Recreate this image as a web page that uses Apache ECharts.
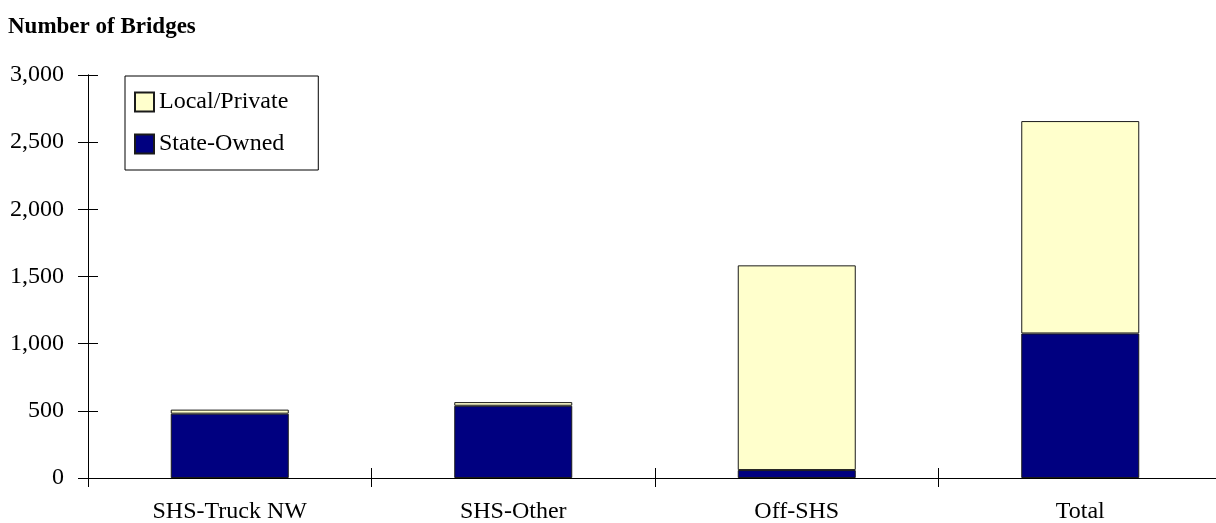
<!DOCTYPE html>
<html>
<head>
<meta charset="utf-8">
<script src="https://cdn.jsdelivr.net/npm/echarts@6/dist/echarts.min.js"></script>
<style>
  html, body { margin: 0; padding: 0; background: #fff; }
  #chart { width: 1216px; height: 523px; }
</style>
</head>
<body>
<div id="chart"></div>
<script>
// Bridge counts by system, split by owner
const categories = ['SHS-Truck NW', 'SHS-Other', 'Off-SHS', 'Total'];
const stateOwned = [479, 538, 59, 1076];
const localPrivate = [30, 27, 1524, 1581];
const yTicks = { min: 0, max: 3000, interval: 500 };

const FONT = '"Palatino Linotype", "Book Antiqua", Palatino, "Liberation Serif", serif';
const INK = '#000';

const chart = echarts.init(document.getElementById('chart'), null, { renderer: 'canvas' });

const baseX = {
  type: 'category',
  data: categories,
  position: 'bottom',
  boundaryGap: true,
  axisLine: { lineStyle: { color: INK, width: 1 } },
  splitLine: { show: false }
};
const baseY = {
  type: 'value',
  position: 'left',
  min: yTicks.min,
  max: yTicks.max,
  interval: yTicks.interval,
  axisLine: { show: true, lineStyle: { color: INK, width: 1 } },
  splitLine: { show: false }
};

chart.setOption({
  animation: false,
  backgroundColor: '#fff',
  title: {
    text: 'Number of Bridges',
    left: 8,
    top: 16,
    padding: 0,
    textStyle: { fontFamily: FONT, fontWeight: 'bold', fontSize: 23, color: INK }
  },
  legend: {
    data: ['Local/Private', 'State-Owned'],
    orient: 'vertical',
    left: 125,
    top: 76,
    padding: [14, 30, 14, 9],
    itemGap: 18,
    itemWidth: 19,
    itemHeight: 19,
    icon: 'rect',
    borderColor: INK,
    borderWidth: 1,
    textStyle: { fontFamily: FONT, fontSize: 24, color: INK }
  },
  // the plot runs a few pixels past the right edge of the canvas
  grid: { left: 88, width: 1134, top: 75, bottom: 45, containLabel: false, outerBoundsMode: 'none' },
  xAxis: [
    Object.assign({}, baseX, {
      axisTick: { show: true, inside: false, length: 9, lineStyle: { color: INK } },
      axisLabel: { fontFamily: FONT, fontSize: 24, color: INK, margin: 22, interval: 0 }
    }),
    Object.assign({}, baseX, {
      axisTick: { show: true, inside: true, length: 10, lineStyle: { color: INK } },
      axisLabel: { show: false }
    })
  ],
  yAxis: [
    Object.assign({}, baseY, {
      axisTick: { show: true, inside: false, length: 10, lineStyle: { color: INK } },
      axisLabel: { fontFamily: FONT, fontSize: 24, color: INK, margin: 24 }
    }),
    Object.assign({}, baseY, {
      axisTick: { show: true, inside: true, length: 10, lineStyle: { color: INK } },
      axisLabel: { show: false }
    })
  ],
  series: [
    {
      name: 'State-Owned',
      type: 'bar',
      stack: 'owner',
      xAxisIndex: 0,
      yAxisIndex: 0,
      barWidth: 118,
      data: stateOwned,
      itemStyle: { color: '#000080', borderColor: '#1a1a1a', borderWidth: 1 }
    },
    {
      name: 'Local/Private',
      type: 'bar',
      stack: 'owner',
      xAxisIndex: 0,
      yAxisIndex: 0,
      barWidth: 118,
      data: localPrivate,
      itemStyle: { color: '#FFFFCC', borderColor: '#1a1a1a', borderWidth: 1 }
    }
  ]
});
</script>
</body>
</html>
